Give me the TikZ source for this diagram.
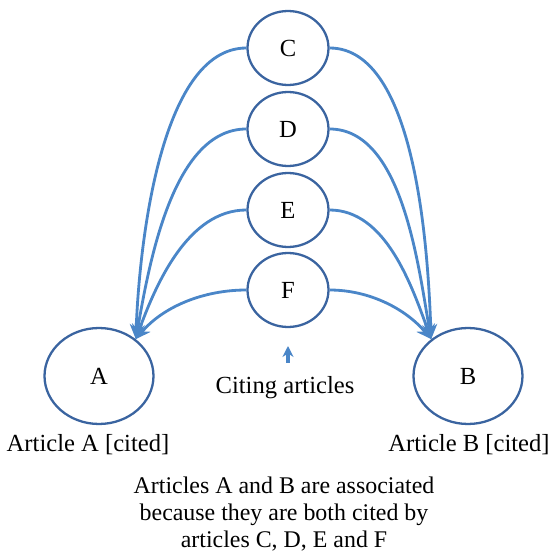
\documentclass[tikz,border=0pt]{standalone}
\usepackage{fontspec}
\setmainfont{Liberation Serif}
\usepackage{xcolor}
\usetikzlibrary{arrows.meta,shapes.geometric}
\definecolor{ringblue}{RGB}{58,100,160}
\definecolor{linkblue}{RGB}{74,134,200}

\begin{document}
\begin{tikzpicture}[x=0.02cm,y=0.02cm,>={Stealth[length=0.3cm,width=0.26cm]},font=\fontsize{14}{16}\selectfont]
    \tikzstyle{citing}=[ellipse,draw=ringblue,line width=1.3pt,minimum width=1.62cm,minimum height=1.48cm,inner sep=0pt]
    \tikzstyle{cited}=[ellipse,draw=ringblue,line width=1.3pt,minimum width=2.18cm,minimum height=1.92cm,inner sep=0pt]
    \tikzstyle{link}=[->,draw=linkblue,line width=1.6pt]

    \useasboundingbox (0,0) rectangle (552,552);

    % cited articles
    \node[cited] (A) at (99,176) {A};
    \node[cited] (B) at (468,176) {B};
    \node (labelA) at (88,107) {Article A [cited]};
    \node (labelB) at (469,107) {Article B [cited]};

    % citing articles
    \foreach \n/\y in {C/504,D/423,E/342,F/262} {
        \node[citing] (\n) at (288,\y) {\n};
    }

    % citation links
    \foreach \n/\a/\l in {C/88/0.72,D/80/0.8,E/70/0.88,F/50/0.9} {
        \draw[link] (\n.west) to[out=180,in=\a,looseness=\l] (A.45);
        \draw[link] (\n.east) to[out=0,in=180-\a,looseness=\l] (B.135);
    }

    \node (cite) at (285,164) {Citing articles};
    \coordinate (citeTop) at (288,189);
    \coordinate (citeTip) at (288,206);
    \draw[->,draw=linkblue,line width=2pt,>={Stealth[length=0.22cm,width=0.22cm]}] (citeTop) -- (citeTip);

    \node[align=center,font=\fontsize{13.6}{15.5}\selectfont] (caption) at (284,38)
        {Articles A and B are associated\\because they are both cited by\\articles C, D, E and F};
\end{tikzpicture}
\end{document}
